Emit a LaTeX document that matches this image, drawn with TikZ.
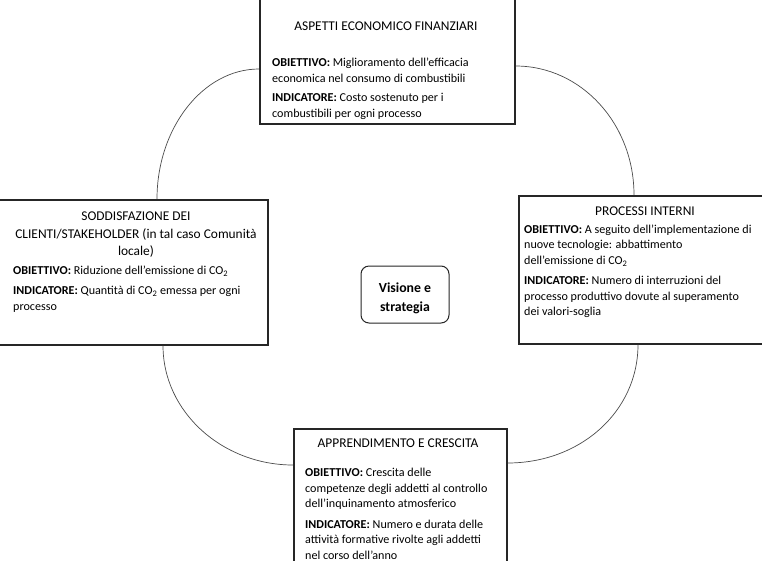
\documentclass[tikz,border=0pt]{standalone}
\usepackage{fontspec}
\setmainfont{Carlito}
\begin{document}
\begin{tikzpicture}[x=1pt,y=-1pt,
  box/.style={draw=black!85, line width=1.5pt, inner sep=0pt, anchor=north west},
  arcline/.style={draw=black!70, line width=0.7pt},
  ttl/.style={inner sep=0pt, align=center, font=\fontsize{13.4}{17.5}\selectfont},
  body/.style={inner sep=0pt, align=left, anchor=north west, font=\fontsize{12.1}{15.5}\selectfont},
  core/.style={draw=black!85, line width=1pt, rounded corners=8pt, minimum width=88pt, minimum height=57pt, inner sep=0pt},
  coretext/.style={inner sep=0pt, align=center, font=\bfseries\fontsize{13.8}{19}\selectfont}]
\useasboundingbox (0,0) rectangle (762,560);
\clip (0,0) rectangle (762,560);
\fill[white] (0,0) rectangle (762,560);

% boxes
\node[box, minimum width=255pt, minimum height=130pt] (top) at (259,-7) {};
\node[box, minimum width=272pt, minimum height=145pt] (left) at (-5,199) {};
\node[box, minimum width=252pt, minimum height=148pt] (right) at (518,195) {};
\node[box, minimum width=213pt, minimum height=150pt] (bot) at (293,428) {};
\node[core] (core) at (405,294.5) {};
\node[coretext] (vis) at (405,298) {Visione e\\strategia};

% texts
\node[ttl] (ttop) at (386,26) {ASPETTI ECONOMICO FINANZIARI};
\node[body] (btop) at (272,58) {\textbf{OBIETTIVO:} Miglioramento dell’efficacia\\economica nel consumo di combustibili\\[4pt]\textbf{INDICATORE:} Costo sostenuto per i\\combustibili per ogni processo};

\node[ttl, anchor=north] (tleft) at (136,212) {SODDISFAZIONE DEI\\CLIENTI/STAKEHOLDER (in tal caso Comunità\\locale)};
\node[body] (bleft) at (13,265.5) {\textbf{OBIETTIVO:} Riduzione dell’emissione di CO\textsubscript{2}\\[5pt]\textbf{INDICATORE:} Quantità di CO\textsubscript{2} emessa per ogni\\processo};

\node[ttl] (tright) at (645,211) {PROCESSI INTERNI};
\node[body] (bright) at (524,224.5) {\textbf{OBIETTIVO:} A seguito dell’implementazione di\\nuove tecnologie: abbattimento\\dell’emissione di CO\textsubscript{2}\\[5pt]\textbf{INDICATORE:} Numero di interruzioni del\\processo produttivo dovute al superamento\\dei valori-soglia};

\node[ttl] (tbot) at (398,443) {APPRENDIMENTO E CRESCITA};
\node[body] (bbot) at (305,468) {\textbf{OBIETTIVO:} Crescita delle\\competenze degli addetti al controllo\\dell’inquinamento atmosferico\\[5pt]\textbf{INDICATORE:} Numero e durata delle\\attività formative rivolte agli addetti\\nel corso dell’anno};

% connectors
\coordinate (a1) at ([yshift=-76pt]top.north west);
\coordinate (a2) at ([xshift=162pt]left.north west);
\coordinate (b1) at ([yshift=-73pt]top.north east);
\coordinate (b2) at ([xshift=116pt]right.north west);
\coordinate (c1) at ([xshift=168pt]left.south west);
\coordinate (c2) at ([yshift=-37pt]bot.north west);
\coordinate (d1) at ([xshift=120pt]right.south west);
\coordinate (d2) at ([yshift=-35pt]bot.north east);
\draw[arcline] (a1) .. controls +(-56,0) and +(0,-71) .. (a2);
\draw[arcline] (b1) .. controls +(66,0) and +(0,-71) .. (b2);
\draw[arcline] (c1) .. controls +(0,67) and +(-70,0) .. (c2);
\draw[arcline] (d1) .. controls +(0,67) and +(73,0) .. (d2);
\end{tikzpicture}
\end{document}
